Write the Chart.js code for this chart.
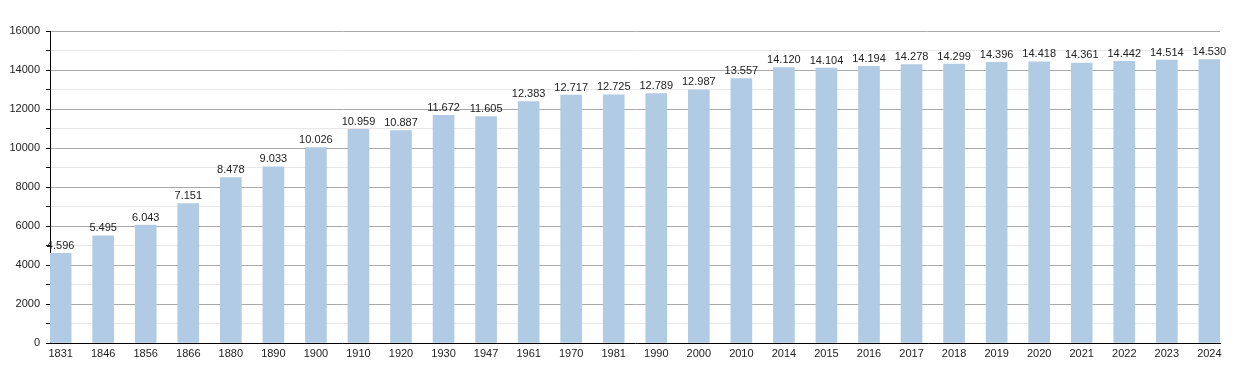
<!DOCTYPE html>
<html>
<head>
<meta charset="utf-8">
<script src="https://cdn.jsdelivr.net/npm/chart.js@4"></script>
<style>
  html, body { margin: 0; padding: 0; background: #fff; }
  #wrap { width: 1250px; height: 373px; }
</style>
</head>
<body>
<div id="wrap"><canvas id="popchart"></canvas></div>
<script>
// Anni del censimento
var years = ['1831', '1846', '1856', '1866', '1880', '1890', '1900', '1910', '1920', '1930',
    '1947', '1961', '1970', '1981', '1990', '2000', '2010', '2014', '2015', '2016',
    '2017', '2018', '2019', '2020', '2021', '2022', '2023', '2024'];

// Abitanti
var population = [4596, 5495, 6043, 7151, 8478, 9033, 10026, 10959, 10887, 11672,
    11605, 12383, 12717, 12725, 12789, 12987, 13557, 14120, 14104, 14194,
    14278, 14299, 14396, 14418, 14361, 14442, 14514, 14530];

var yMax = 16000;
var yStep = 1000;

function fmt(n) {
    return String(n).replace(/\B(?=(\d{3})+(?!\d))/g, '.');
}

Chart.defaults.font.family = '"Liberation Sans", Arial, sans-serif';
Chart.defaults.font.size = 11;
Chart.defaults.color = '#222';

// etichette sopra le barre
var valueLabels = {
    id: 'valueLabels',
    afterDatasetsDraw: function (chart) {
        var ctx = chart.ctx;
        var meta = chart.getDatasetMeta(0);
        ctx.save();
        ctx.font = '11px "Liberation Sans", Arial, sans-serif';
        ctx.fillStyle = '#222';
        ctx.textAlign = 'center';
        ctx.textBaseline = 'bottom';
        meta.data.forEach(function (bar, i) {
            ctx.fillText(fmt(population[i]), bar.x, bar.y - 2);
        });
        ctx.restore();
    }
};

var data = {
    datasets: [{
        label: 'Abitanti',
        data: population.map(function (v, i) { return { x: i, y: v }; }),
        backgroundColor: '#b1cbe4',
        borderWidth: 0,
        barThickness: 21,
    }]
};

var config = {
    type: 'bar',
    data: data,
    options: {
        responsive: false,
        animation: false,
        layout: { padding: { top: 31, right: 30, left: 0, bottom: 0 } },
        plugins: {
            legend: { display: false },
            tooltip: { enabled: false },
        },
        scales: {
            x: {
                type: 'linear',
                offset: false,
                min: -0.25,
                max: years.length - 0.75,
                afterBuildTicks: function (axis) {
                    axis.ticks = years.map(function (_, i) { return { value: i }; });
                },
                afterFit: function (axis) { axis.height = 30; },
                grid: { display: false, drawTicks: false, offset: false },
                border: { display: true, color: '#000', width: 1 },
                ticks: {
                    autoSkip: false,
                    maxRotation: 0,
                    padding: 4,
                    callback: function (v) { return years[v]; },
                },
            },
            y: {
                min: 0,
                max: yMax,
                afterFit: function (axis) { axis.width = 50; },
                border: { display: true, color: '#000', width: 1 },
                grid: {
                    color: function (c) {
                        if (c.tick.value === 0) return 'rgba(0,0,0,0)';
                        return c.tick.value % 2000 === 0 ? '#a9a9a9' : '#e8e8e8';
                    },
                    tickColor: '#000',
                    tickLength: 4,
                },
                ticks: {
                    stepSize: yStep,
                    padding: 6,
                    callback: function (v) { return v % 2000 === 0 ? v : ''; },
                },
            },
        },
    },
    plugins: [valueLabels],
};

var canvas = document.getElementById('popchart');
canvas.width = 1250;
canvas.height = 373;
var popchart = new Chart(canvas, config);
</script>
</body>
</html>
